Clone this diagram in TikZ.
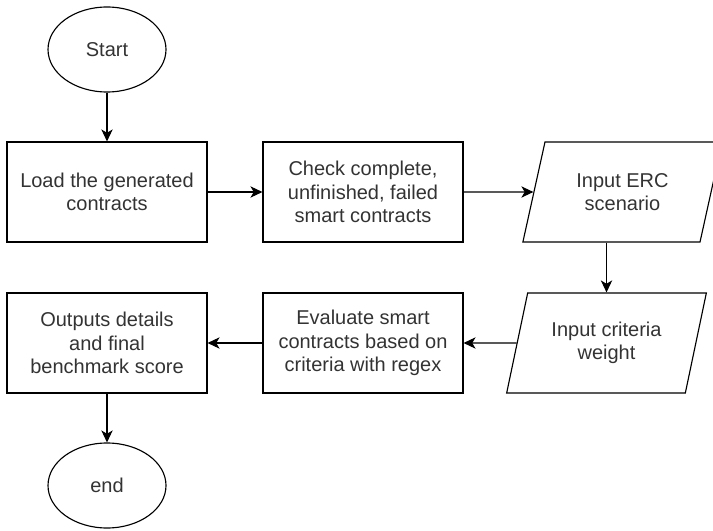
\documentclass[tikz,border=0pt]{standalone}
\usepackage{fontspec}
\setmainfont{Liberation Sans}
\usetikzlibrary{arrows.meta,shapes.geometric}

\begin{document}
\begin{tikzpicture}[
  x=0.75pt,y=-0.75pt,
  every node/.style={font=\fontsize{15}{17.5}\selectfont,text=black!80},
  proc/.style={draw,line width=0.85pt,minimum width=150pt,minimum height=75pt,
               align=center,inner sep=2pt},
  term/.style={draw,ellipse,line width=0.85pt,minimum width=88.5pt,minimum height=63.75pt,
               inner sep=0pt},
  inbox/.style={draw,trapezium,trapezium left angle=72,trapezium right angle=108,
                trapezium stretches=true,line width=0.85pt,minimum width=150pt,
                minimum height=75pt,align=center,inner sep=2pt},
  arr/.style={-{Stealth[length=9pt,width=8.5pt,inset=2.5pt]},line width=0.85pt},
]
  \useasboundingbox (0,0) rectangle (713,531);

  % Terminals
  \node[term] (start) at (107,49.5) {Start};
  \node[term] (end) at (107,485.5) {end};

  % Top row
  \node[proc] (load) at (107,192) {Load the generated\\contracts};
  \node[proc] (check) at (363,192) {Check complete,\\unfinished, failed\\smart contracts};
  \node[inbox] (erc) at (622.5,192) {Input ERC\\scenario};

  % Bottom row
  \node[inbox] (weight) at (606.5,343) {Input criteria\\weight};
  \node[proc] (eval) at (363,343) {Evaluate smart\\contracts based on\\criteria with regex};
  \node[proc] (out) at (107,343) {Outputs details\\and final\\benchmark score};

  % Arrows
  \draw[arr] (start) -- (load);
  \draw[arr] (load) -- (check);
  \draw[arr] (check.east) -- (erc.west);
  \draw[arr] (weight.north |- erc.south) -- (weight.north);
  \draw[arr] (weight.west) -- (eval.east);
  \draw[arr] (eval) -- (out);
  \draw[arr] (out) -- (end);
\end{tikzpicture}
\end{document}
